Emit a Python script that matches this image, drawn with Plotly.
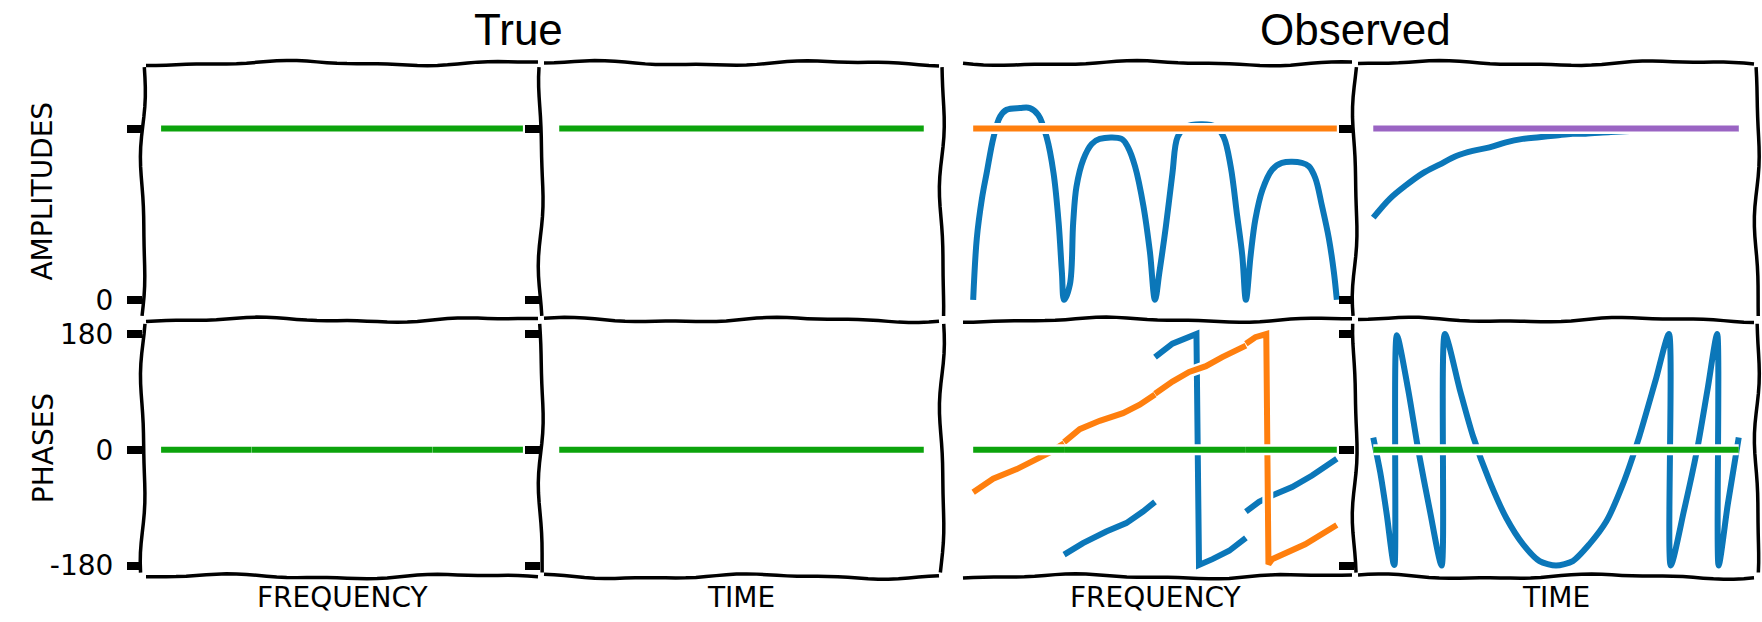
import math
import plotly.graph_objects as go

W, H = 1762, 622

# ---------------- data ----------------
# frequency / time axes are normalised to 0..1
band_edges = [0.0, 0.25, 0.5, 0.75, 1.0]

# "True" panels: unit amplitude, zero phase
true_x = [0.0, 1.0]
true_amplitude = [1.0, 1.0]
true_phase = [0.0, 0.0]

# Observed amplitude spectrum (blue), one lobe per band
blue_amp_freq_x = [
    0.0, 0.01, 0.024, 0.037, 0.056, 0.074, 0.092, 0.129, 0.156, 0.179, 0.202, 0.221, 0.235, 0.244, 0.25,
    0.266, 0.275, 0.284, 0.303, 0.326, 0.348, 0.408, 0.426, 0.445, 0.468, 0.486, 0.5,
    0.512, 0.53, 0.548, 0.562, 0.585, 0.63, 0.667, 0.689, 0.708, 0.726, 0.74, 0.75,
    0.763, 0.776, 0.795, 0.822, 0.849, 0.904, 0.923, 0.941, 0.959, 0.978, 0.992, 1.0,
]
blue_amp_freq = [
    0.0, 0.36, 0.59, 0.74, 0.95, 1.07, 1.11, 1.12, 1.12, 1.08, 0.95, 0.74, 0.45, 0.16, 0.0,
    0.09, 0.45, 0.66, 0.82, 0.91, 0.94, 0.94, 0.89, 0.78, 0.55, 0.28, 0.0,
    0.16, 0.43, 0.74, 0.95, 1.01, 1.025, 1.01, 0.95, 0.78, 0.49, 0.26, 0.0,
    0.26, 0.47, 0.64, 0.76, 0.80, 0.80, 0.78, 0.71, 0.55, 0.36, 0.16, 0.0,
]
orange_amp_freq_x = [0.0, 1.0]
orange_amp_freq = [1.0, 1.0]

# Observed amplitude over time
blue_amp_time_x = [0.0, 0.045, 0.09, 0.136, 0.181, 0.227, 0.272, 0.318, 0.363, 0.409,
                   0.454, 0.5, 0.545, 0.581, 0.65, 0.75, 0.85, 1.0]
blue_amp_time = [0.48, 0.59, 0.67, 0.74, 0.79, 0.84, 0.87, 0.89, 0.92, 0.94,
                 0.95, 0.96, 0.97, 0.97, 0.98, 0.99, 0.995, 1.0]
purple_amp_time_x = [0.0, 1.0]
purple_amp_time = [1.0, 1.0]

# Observed phase spectrum, per band (degrees)
orange_phase_bands_x = [
    [0.0, 0.055, 0.12, 0.175, 0.211, 0.25],
    [0.25, 0.293, 0.348, 0.412, 0.458, 0.5],
    [0.5, 0.548, 0.594, 0.64, 0.685, 0.75],
    [0.75, 0.776, 0.806, 0.812, 0.822, 0.913, 1.0],
]
orange_phase_bands = [
    [-66, -45, -30, -14, -4, 10],
    [12, 32, 45, 57, 70, 86],
    [87, 106, 121, 130, 144, 162],
    [165, 175, 180, -178, -170, -147, -117],
]
blue_phase_bands_x = [
    [],
    [0.25, 0.302, 0.366, 0.421, 0.467, 0.5],
    [0.5, 0.548, 0.614, 0.621, 0.658, 0.704, 0.75],
    [0.75, 0.786, 0.822, 0.877, 0.932, 1.0],
]
blue_phase_bands = [
    [],
    [-163, -145, -127, -114, -96, -81],
    [144, 165, 180, -179, -170, -157, -137],
    [-96, -81, -71, -58, -40, -14],
]

# Observed phase over time (wrapped, degrees)
blue_phase_time_x = [0.0, 0.019, 0.037, 0.055, 0.058, 0.0645, 0.095, 0.123, 0.155, 0.187,
                     0.196, 0.237, 0.273, 0.319, 0.364, 0.41, 0.455, 0.5, 0.546, 0.591,
                     0.637, 0.682, 0.728, 0.773, 0.809, 0.814, 0.85, 0.886, 0.915, 0.941,
                     0.945, 0.97, 1.0]
blue_phase_time = [19, -35, -101, -176, -179, 178, 95, 0, -95, -180,
                   180, 93, 21, -50, -106, -147, -173, -180, -173, -147,
                   -112, -55, 21, 109, 180, -180, -95, 0, 95, 180,
                   -180, -85, 19]
green_phase_time_x = [0.0, 1.0]
green_phase_time = [0.0, 0.0]

amp_ticks = [0, 1]
amp_ticktext = ["0", ""]
phase_ticks = [-180, 0, 180]
phase_ticktext = ["-180", "0", "180"]

# ---------------- style ----------------
BLUE = "#0b77b9"
ORANGE = "#ff7f0e"
GREEN = "#0ca30c"
PURPLE = "#9a64c3"
LW = 6
HAND = "DejaVu Sans"

col_px = [(143, 541), (541, 942), (955, 1355), (1355, 1757)]
row_px = [(62, 322), (322, 582)]
amp_range = [-0.117, 1.382]
phase_range = [-197, 202]

fig = go.Figure()


def axis_id(r, c):
    return r * 4 + c + 1


def add_line(r, c, x, y, color, shape="linear", smoothing=1.0):
    n = axis_id(r, c)
    ax = dict(xaxis=f"x{n}", yaxis=f"y{n}")
    # white halo underneath, then the coloured stroke
    fig.add_trace(go.Scatter(x=x, y=y, mode="lines",
                             line=dict(color="white", width=LW + 5, shape=shape, smoothing=smoothing),
                             hoverinfo="skip", showlegend=False, **ax))
    fig.add_trace(go.Scatter(x=x, y=y, mode="lines",
                             line=dict(color=color, width=LW, shape=shape, smoothing=smoothing),
                             hoverinfo="skip", showlegend=False, **ax))


# row 0: amplitudes
add_line(0, 0, true_x, true_amplitude, GREEN)
add_line(0, 1, true_x, true_amplitude, GREEN)
add_line(0, 2, blue_amp_freq_x, blue_amp_freq, BLUE, "spline")
add_line(0, 2, orange_amp_freq_x, orange_amp_freq, ORANGE)
add_line(0, 3, blue_amp_time_x, blue_amp_time, BLUE, "spline")
add_line(0, 3, purple_amp_time_x, purple_amp_time, PURPLE)

# row 1: phases
for a, b in zip(band_edges[:-1], band_edges[1:]):
    add_line(1, 0, [a, b], true_phase, GREEN)
add_line(1, 1, true_x, true_phase, GREEN)
for bx, by in zip(blue_phase_bands_x, blue_phase_bands):
    if bx:
        add_line(1, 2, bx, by, BLUE)
for ox, oy in zip(orange_phase_bands_x, orange_phase_bands):
    add_line(1, 2, ox, oy, ORANGE)
for a, b in zip(band_edges[:-1], band_edges[1:]):
    add_line(1, 2, [a, b], true_phase, GREEN)
add_line(1, 3, blue_phase_time_x, blue_phase_time, BLUE, "spline", 0.7)
add_line(1, 3, green_phase_time_x, green_phase_time, GREEN)

# ---------------- axes ----------------
layout_axes = {}
for r in range(2):
    for c in range(4):
        n = axis_id(r, c)
        x0, x1 = col_px[c]
        y0, y1 = row_px[r]
        xd = [x0 / W, x1 / W]
        yd = [1 - y1 / H, 1 - y0 / H]
        layout_axes[f"xaxis{n}"] = dict(
            domain=xd, range=[-0.05, 1.05], anchor=f"y{n}",
            showticklabels=False, ticks="", showgrid=False, zeroline=False, showline=False,
        )
        layout_axes[f"yaxis{n}"] = dict(
            domain=yd, anchor=f"x{n}", showgrid=False, zeroline=False, showline=False,
            range=amp_range if r == 0 else phase_range,
            tickmode="array",
            tickvals=amp_ticks if r == 0 else phase_ticks,
            ticktext=amp_ticktext if r == 0 else phase_ticktext,
            ticks="outside" if c != 2 else "", ticklen=15, tickwidth=8, tickcolor="black",
            showticklabels=(c == 0),
            tickfont=dict(family=HAND, size=28, color="black"),
            ticklabelstandoff=8,
        )

# ---------------- hand-drawn frames ----------------
def edge_path(p0, p1, phase, amp=2.0, wl=240.0):
    (x0, y0), (x1, y1) = p0, p1
    dx, dy = x1 - x0, y1 - y0
    L = math.hypot(dx, dy)
    nx, ny = -dy / L, dx / L
    n = max(8, int(L / 10))
    pts = []
    for i in range(n + 1):
        s = i / n
        d = amp * math.sin(2 * math.pi * s * L / wl + phase) + 0.8 * math.sin(2 * math.pi * s * L / 97 + 2 * phase)
        px = x0 + dx * s + nx * d
        py = y0 + dy * s + ny * d
        pts.append(f"{px / W:.5f},{1 - py / H:.5f}")
    return "M " + " L ".join(pts)


shapes = []
k = 0
frame_left = [143, 541, 960, 1355]
frame_right = [541, 942, 1355, 1757]
for c in range(4):
    for y in (62, 322, 582):
        k += 1
        shapes.append(dict(type="path", xref="paper", yref="paper", layer="above",
                           path=edge_path((frame_left[c] + 3, y), (frame_right[c] - 3, y), 0.9 * k),
                           line=dict(color="black", width=3.5)))
for x in (143, 541, 942, 1355, 1757):
    for y0, y1 in row_px:
        k += 1
        shapes.append(dict(type="path", xref="paper", yref="paper", layer="above",
                           path=edge_path((x, y0 + 4), (x, y1 - 4), 1.3 * k, wl=180.0),
                           line=dict(color="black", width=3.5)))

# ---------------- text ----------------
def label(text, x, y, size, family=HAND, angle=0, yanchor="middle"):
    return dict(text=text, x=x / W, y=1 - y / H, xref="paper", yref="paper", showarrow=False,
                xanchor="center", yanchor=yanchor, textangle=angle,
                font=dict(family=family, size=size, color="black"))


annotations = [
    label("True", 518, 1, 44, "Liberation Sans, Arial", yanchor="top"),
    label("Observed", 1355, 1, 44, "Liberation Sans, Arial", yanchor="top"),
    label("AMPLITUDES", 43, 192, 28, angle=-90),
    label("PHASES", 43, 452, 28, angle=-90),
]
for text, cx in (("FREQUENCY", 342), ("TIME", 741), ("FREQUENCY", 1155), ("TIME", 1556)):
    annotations.append(label(text, cx, 603, 28))

fig.update_layout(
    width=W, height=H, margin=dict(l=0, r=0, t=0, b=0),
    paper_bgcolor="white", plot_bgcolor="white",
    shapes=shapes, annotations=annotations, showlegend=False,
    **layout_axes,
)

fig.write_html("out.html", config={"displayModeBar": False})
